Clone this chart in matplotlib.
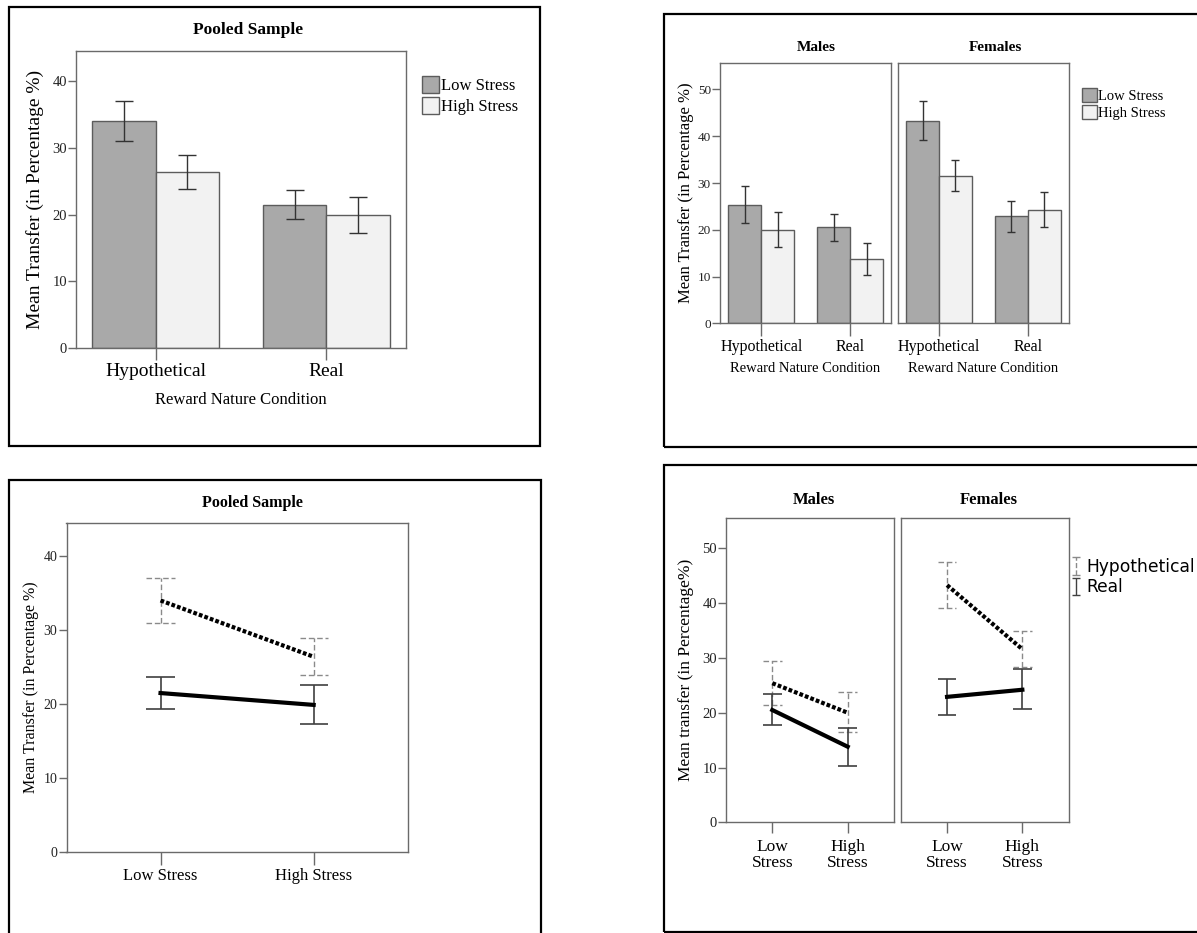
import numpy as np
import matplotlib
matplotlib.use("Agg")
import matplotlib.pyplot as plt
from matplotlib.patches import Rectangle
from matplotlib.lines import Line2D
from matplotlib.collections import LineCollection
from matplotlib.container import ErrorbarContainer

W, H = 1197, 933

conditions = ["Hypothetical", "Real"]
stress_levels = ["Low Stress", "High Stress"]
stress_ticks = ["Low\nStress", "High\nStress"]

# rows: Hypothetical, Real ; columns: Low Stress, High Stress
pooled_mean = [[34.0, 26.4], [21.5, 19.9]]
pooled_lo = [[31.0, 23.9], [19.4, 17.3]]
pooled_hi = [[37.1, 28.9], [23.7, 22.6]]

males_mean = [[25.4, 20.0], [20.5, 13.8]]
males_lo = [[21.4, 16.4], [17.7, 10.3]]
males_hi = [[29.4, 23.7], [23.4, 17.2]]

females_mean = [[43.3, 31.6], [22.9, 24.2]]
females_lo = [[39.1, 28.3], [19.6, 20.6]]
females_hi = [[47.6, 34.9], [26.1, 28.0]]

bar_colors = ["#a9a9a9", "#f2f2f2"]
SERIF = "Liberation Serif"
plt.rcParams["font.family"] = SERIF

fig = plt.figure(figsize=(W / 100, H / 100), dpi=100)


def fx(x):
    return x / W


def fy(y):
    return 1 - y / H


def px_axes(x0, y0, x1, y1):
    return fig.add_axes([fx(x0), fy(y1), (x1 - x0) / W, (y1 - y0) / H])


def frame(x0, y0, x1, y1):
    fig.add_artist(Rectangle((fx(x0), fy(y1)), (x1 - x0) / W, (y1 - y0) / H,
                             transform=fig.transFigure, fill=False,
                             ec="black", lw=1.6))


def style(ax, ymax, yticks, ysize, xsize, xlen, show_y=True, xpad=2):
    for s in ax.spines.values():
        s.set_color("#6a6a6a")
        s.set_linewidth(1.0)
    ax.set_ylim(0, ymax)
    ax.set_yticks(yticks)
    ax.tick_params(axis="y", direction="out", length=5.5, width=1,
                   color="#6a6a6a", labelsize=ysize, pad=1,
                   labelcolor="#222222")
    ax.tick_params(axis="x", direction="out", length=xlen, width=1,
                   color="#6a6a6a", labelsize=xsize, pad=xpad)
    if not show_y:
        ax.tick_params(axis="y", left=False, labelleft=False)


def bar_panel(ax, mean, lo, hi, capsize):
    x = np.arange(len(conditions))
    m, l, h = np.array(mean), np.array(lo), np.array(hi)
    bw = 0.37
    bars = []
    for j in range(len(stress_levels)):
        pos = x + (j - 0.5) * bw
        b = ax.bar(pos, m[:, j], bw, color=bar_colors[j], edgecolor="#5c5c5c",
                   lw=1, label=stress_levels[j], zorder=2)
        ax.errorbar(pos, m[:, j], yerr=[m[:, j] - l[:, j], h[:, j] - m[:, j]],
                    fmt="none", ecolor="#333333", elinewidth=1,
                    capsize=capsize, capthick=1, zorder=3)
        bars.append(b)
    ax.set_xlim(-0.465, 1.465)
    ax.set_xticks(x, conditions)
    return bars


def line_panel(ax, mean, lo, hi, cap_w):
    x = np.arange(len(stress_levels))
    m, l, h = np.array(mean), np.array(lo), np.array(hi)
    styles = [((0, (4, 2)), "#8a8a8a", 1.0, (0, (0.9, 0.5))),
              ("-", "#404040", 1.2, "-")]
    for i in range(len(conditions)):
        els, ec, elw, ls = styles[i]
        ax.vlines(x, l[i], h[i], colors=ec, linestyles=els, lw=elw, zorder=2)
        ax.hlines(l[i], x - cap_w, x + cap_w, colors=ec, linestyles=els, lw=elw, zorder=2)
        ax.hlines(h[i], x - cap_w, x + cap_w, colors=ec, linestyles=els, lw=elw, zorder=2)
        ax.plot(x, m[i], color="black", lw=3, ls=ls, zorder=3)
    ax.set_xlim(-0.614, 1.614)


# ---------------- top-left: pooled bars ----------------
frame(9, 7, 540, 446)
ax1 = px_axes(76, 50.7, 406, 348)
bars = bar_panel(ax1, pooled_mean, pooled_lo, pooled_hi, 6.5)
style(ax1, 44.6, [0, 10, 20, 30, 40], 10.5, 14, 8.5)
fig.text(fx(248), fy(30), "Pooled Sample", ha="center", va="center",
         fontsize=12.5, fontweight="bold")
fig.text(fx(35), fy(199), "Mean Transfer (in Percentage %)", ha="center",
         va="center", rotation=90, fontsize=14)
fig.text(fx(241), fy(400), "Reward Nature Condition", ha="center",
         va="center", fontsize=12)
fig.legend(bars, stress_levels, loc="upper left",
           bbox_to_anchor=(fx(422), fy(76)), frameon=False, fontsize=12,
           handlelength=1.0, handleheight=1.15, handletextpad=0.15,
           labelspacing=0.2, borderaxespad=0, borderpad=0)

# ---------------- top-right: bars by gender ----------------
frame(664, 14, 1205, 447)
ax2m = px_axes(720, 63.3, 891.5, 323.3)
ax2f = px_axes(897.7, 63.3, 1069, 323.3)
bars2 = bar_panel(ax2m, males_mean, males_lo, males_hi, 3.2)
bar_panel(ax2f, females_mean, females_lo, females_hi, 3.2)
style(ax2m, 55.6, [0, 10, 20, 30, 40, 50], 9.5, 11.5, 9)
style(ax2f, 55.6, [0, 10, 20, 30, 40, 50], 9.5, 11.5, 9, show_y=False)
fig.text(fx(816), fy(47.7), "Males", ha="center", va="center",
         fontsize=11, fontweight="bold")
fig.text(fx(995), fy(47.7), "Females", ha="center", va="center",
         fontsize=11, fontweight="bold")
for cx in (805, 983):
    fig.text(fx(cx), fy(368), "Reward Nature Condition", ha="center",
             va="center", fontsize=10.5)
fig.text(fx(686), fy(193), "Mean Transfer (in Percentage %)", ha="center",
         va="center", rotation=90, fontsize=12)
fig.legend(bars2, stress_levels, loc="upper left",
           bbox_to_anchor=(fx(1082), fy(88)), frameon=False, fontsize=10.5,
           handlelength=1.0, handleheight=1.1, handletextpad=0.1,
           labelspacing=0.15, borderaxespad=0, borderpad=0)

# ---------------- bottom-left: pooled lines ----------------
frame(9, 480, 541, 940)
ax3 = px_axes(66.5, 522.7, 407.7, 852.3)
line_panel(ax3, pooled_mean, pooled_lo, pooled_hi, 0.092)
style(ax3, 44.5, [0, 10, 20, 30, 40], 10, 12, 9)
ax3.set_xticks(np.arange(2), stress_levels)
fig.text(fx(252), fy(503.3), "Pooled Sample", ha="center", va="center",
         fontsize=11.5, fontweight="bold")
fig.text(fx(31), fy(687), "Mean Transfer (in Percentage %)", ha="center",
         va="center", rotation=90, fontsize=11.5)

# ---------------- bottom-right: lines by gender ----------------
frame(664, 465, 1205, 931.5)
ax4m = px_axes(726, 518.3, 894, 822.3)
ax4f = px_axes(900.8, 518.3, 1068.6, 822.3)
line_panel(ax4m, males_mean, males_lo, males_hi, 0.123)
line_panel(ax4f, females_mean, females_lo, females_hi, 0.123)
style(ax4m, 55.5, [0, 10, 20, 30, 40, 50], 10.5, 12.5, 8, xpad=4)
style(ax4f, 55.5, [0, 10, 20, 30, 40, 50], 10.5, 12.5, 8, show_y=False, xpad=4)
for a in (ax4m, ax4f):
    a.set_xticks(np.arange(2), stress_ticks)
    for t in a.get_xticklabels():
        t.set_linespacing(1.0)
fig.text(fx(814), fy(500), "Males", ha="center", va="center",
         fontsize=12, fontweight="bold")
fig.text(fx(989), fy(500), "Females", ha="center", va="center",
         fontsize=12, fontweight="bold")
fig.text(fx(686), fy(670), "Mean transfer (in Percentage%)", ha="center",
         va="center", rotation=90, fontsize=12.5)

handles = []
for ls, ec in [("--", "#8a8a8a"), ("-", "#404040")]:
    dl = Line2D([], [], ls="none")
    caps = (Line2D([], [], marker="_", color=ec, ls="none", markersize=6),
            Line2D([], [], marker="_", color=ec, ls="none", markersize=6))
    bl = LineCollection([], colors=ec, linestyles=ls, linewidths=1)
    handles.append(ErrorbarContainer((dl, caps, (bl,)), has_xerr=False,
                                     has_yerr=True))
fig.legend(handles, conditions, loc="upper left",
           bbox_to_anchor=(fx(1071), fy(558)), frameon=False,
           prop={"family": "DejaVu Sans", "size": 12.3},
           handlelength=0.6, handletextpad=0.3, labelspacing=0.12,
           borderaxespad=0, borderpad=0)

fig.savefig("out.png", dpi=100)
